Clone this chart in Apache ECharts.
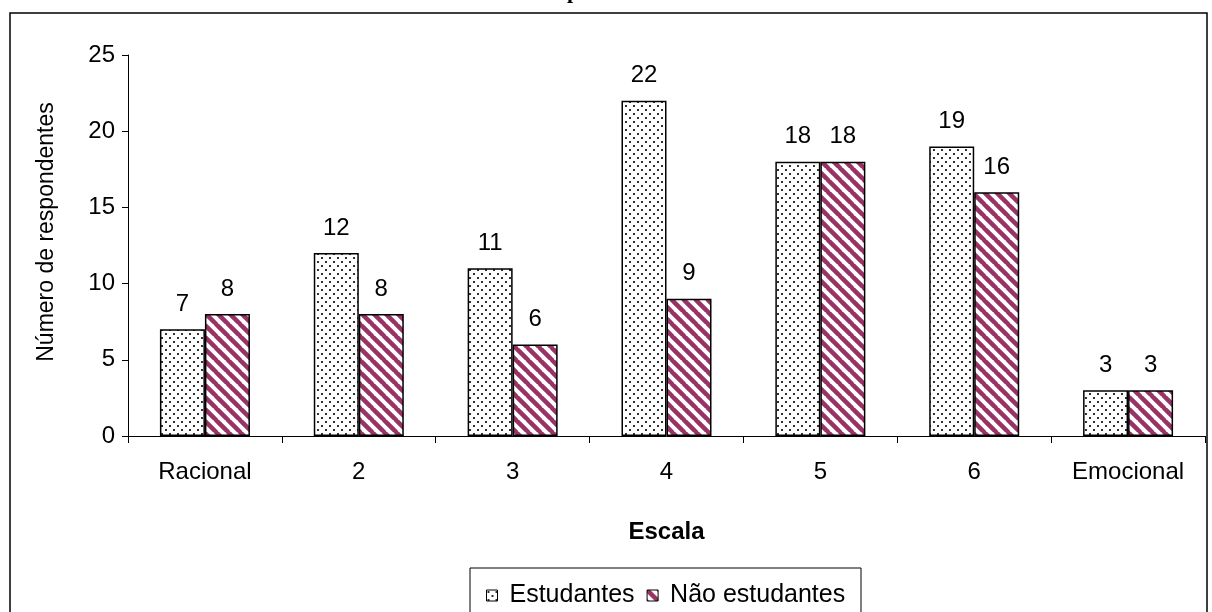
<!DOCTYPE html>
<html>
<head>
<meta charset="utf-8">
<script src="https://cdn.jsdelivr.net/npm/echarts@6/dist/echarts.min.js"></script>
<style>
  html, body { margin: 0; padding: 0; background: #fff; }
  #chart { width: 1212px; height: 612px; }
</style>
</head>
<body>
<div id="chart"></div>
<script>
// Scale categories and respondent counts
const categories = ['Racional', '2', '3', '4', '5', '6', 'Emocional'];
const estudantes = [7, 12, 11, 22, 18, 19, 3];
const naoEstudantes = [8, 8, 6, 9, 18, 16, 3];
const yTicks = { min: 0, max: 25, interval: 5 };

const FONT = '"Liberation Sans", Arial, sans-serif';

// Dotted fill for "Estudantes"
function dotPattern() {
  const c = document.createElement('canvas');
  c.width = 8; c.height = 8;
  const g = c.getContext('2d');
  g.fillStyle = '#fff';
  g.fillRect(0, 0, 8, 8);
  g.fillStyle = '#333';
  g.fillRect(1, 1, 2, 2);
  g.fillRect(5, 5, 2, 2);
  return c;
}

// Wide downward diagonal stripes for "Não estudantes"
function stripePattern() {
  const s = 12;
  const c = document.createElement('canvas');
  c.width = s; c.height = s;
  const g = c.getContext('2d');
  g.fillStyle = '#fff';
  g.fillRect(0, 0, s, s);
  g.strokeStyle = '#993366';
  g.lineWidth = 4.5;
  g.beginPath();
  for (const o of [-s, 0, s]) {
    g.moveTo(o - 1, -1);
    g.lineTo(o + s + 1, s + 1);
  }
  g.stroke();
  return c;
}

const chart = echarts.init(document.getElementById('chart'), null, { renderer: 'canvas' });

const labelStyle = {
  show: true,
  position: 'top',
  distance: 13,
  color: '#000',
  fontSize: 24,
  fontFamily: FONT
};

chart.setOption({
  backgroundColor: '#fff',
  animation: false,
  grid: { left: 128, right: 7, top: 55, bottom: 176, containLabel: false },
  graphic: [
    {
      type: 'rect', z: 0,
      shape: { x: 10, y: 13, width: 1197, height: 640 },
      style: { fill: 'none', stroke: '#000', lineWidth: 1.5 }
    },
    {
      type: 'rect', z: 1,
      shape: { x: 470, y: 568, width: 391, height: 60 },
      style: { fill: '#fff', stroke: '#000', lineWidth: 1 }
    },
    {
      type: 'text', z: 2,
      x: 573, y: -8,
      style: {
        text: 'p', fill: '#000',
        font: 'bold 22px "Liberation Serif", "Times New Roman", serif',
        align: 'center', verticalAlign: 'middle'
      }
    },
    {
      type: 'text', z: 2,
      x: 47, y: 232, rotation: Math.PI / 2,
      style: {
        text: 'Número de respondentes', fill: '#000',
        font: '23px ' + FONT,
        align: 'center', verticalAlign: 'middle'
      }
    }
  ],
  legend: {
    left: 481, top: 578,
    itemWidth: 11, itemHeight: 11, itemGap: 12,
    icon: 'rect',
    itemStyle: { borderColor: '#000', borderWidth: 1 },
    textStyle: { color: '#000', fontSize: 25, fontFamily: FONT, padding: [0, 0, 0, 7] },
    data: ['Estudantes', 'Não estudantes']
  },
  xAxis: {
    type: 'category',
    data: categories,
    name: 'Escala',
    nameLocation: 'middle',
    nameGap: 84,
    nameTextStyle: { color: '#000', fontSize: 24, fontWeight: 'bold', fontFamily: FONT },
    axisLine: { lineStyle: { color: '#000', width: 1 } },
    axisTick: { show: true, length: 7, lineStyle: { color: '#000' } },
    axisLabel: { color: '#000', fontSize: 24, fontFamily: FONT, margin: 24 }
  },
  yAxis: {
    type: 'value',
    min: yTicks.min, max: yTicks.max, interval: yTicks.interval,
    axisLine: { show: true, lineStyle: { color: '#000', width: 1 } },
    axisTick: { show: true, length: 6, lineStyle: { color: '#000' } },
    splitLine: { show: false },
    axisLabel: { color: '#000', fontSize: 24, fontFamily: FONT, margin: 13 }
  },
  series: [
    {
      name: 'Estudantes',
      type: 'bar',
      data: estudantes,
      barGap: '0%',
      barCategoryGap: '41.5%',
      itemStyle: {
        color: { image: dotPattern(), repeat: 'repeat' },
        borderColor: '#000', borderWidth: 1.5
      },
      label: labelStyle
    },
    {
      name: 'Não estudantes',
      type: 'bar',
      data: naoEstudantes,
      barGap: '0%',
      barCategoryGap: '41.5%',
      itemStyle: {
        color: { image: stripePattern(), repeat: 'repeat' },
        borderColor: '#000', borderWidth: 1.5
      },
      label: labelStyle
    }
  ]
});
</script>
</body>
</html>
